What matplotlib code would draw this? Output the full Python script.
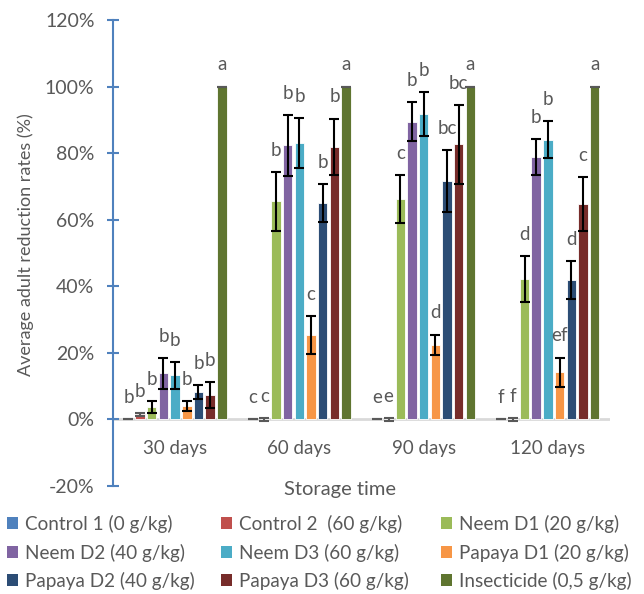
import numpy as np
import matplotlib
matplotlib.use('Agg')
import matplotlib.pyplot as plt
from matplotlib.patches import Patch

plt.rcParams['font.family'] = ['Lato', 'DejaVu Sans']

categories = ['30 days', '60 days', '90 days', '120 days']
series_names = ['Control 1 (0 g/kg)', 'Control 2  (60 g/kg)', 'Neem D1 (20 g/kg)',
                'Neem D2 (40 g/kg)', 'Neem D3 (60 g/kg)', 'Papaya D1 (20 g/kg)',
                'Papaya D2 (40 g/kg)', 'Papaya D3 (60 g/kg)', 'Insecticide (0,5 g/kg)']
colors = ['#4F81BD', '#C0504D', '#9BBB59', '#8064A2', '#4BACC6', '#F79646',
          '#2C4D75', '#772C2A', '#5F7530']

control1 = [0, 0, 0, 0]
control2 = [1.5, 0, 0, 0]
neem_d1 = [3.6, 65.5, 66.2, 42.2]
neem_d2 = [13.8, 82.3, 89.5, 78.8]
neem_d3 = [13.2, 83.0, 91.7, 84.0]
papaya_d1 = [3.9, 25.4, 22.5, 14.1]
papaya_d2 = [8.2, 65.0, 71.6, 41.9]
papaya_d3 = [7.2, 81.9, 82.6, 64.6]
insecticide = [100, 100, 100, 100]

control1_err = [0, 0, 0, 0]
control2_err = [0.5, 0.5, 0.5, 0.5]
neem_d1_err = [1.8, 8.9, 7.1, 7.0]
neem_d2_err = [4.6, 9.1, 5.9, 5.3]
neem_d3_err = [4.0, 7.6, 6.6, 5.6]
papaya_d1_err = [1.5, 5.6, 3.0, 4.5]
papaya_d2_err = [2.2, 5.8, 9.2, 5.8]
papaya_d3_err = [3.9, 8.5, 11.8, 8.1]
insecticide_err = [0, 0, 0, 0]

letters_30 = ['b', 'b', 'b', 'b', 'b', 'b', 'b', 'b', 'a']
letters_60 = ['c', 'c', 'b', 'b', 'b', 'c', 'b', 'b', 'a']
letters_90 = ['e', 'e', 'c', 'b', 'b', 'd', 'bc', 'bc', 'a']
letters_120 = ['f', 'f', 'd', 'b', 'b', 'ef', 'd', 'c', 'a']

yticks = [-20, 0, 20, 40, 60, 80, 100, 120]

values = [control1, control2, neem_d1, neem_d2, neem_d3, papaya_d1, papaya_d2, papaya_d3, insecticide]
errors = [control1_err, control2_err, neem_d1_err, neem_d2_err, neem_d3_err,
          papaya_d1_err, papaya_d2_err, papaya_d3_err, insecticide_err]
letters = [letters_30, letters_60, letters_90, letters_120]

txt = '#595959'
W, H = 644, 594
fig = plt.figure(figsize=(W / 100, H / 100), dpi=100)
ax = fig.add_axes([113 / W, 1 - 486 / H, (610 - 113) / W, (486 - 20) / H])
ax.set_xlim(0, len(categories))
ax.set_ylim(-20, 120)

ax.axhline(0, color='#D9D9D9', lw=2, zorder=1)

n = len(values)
slot = 0.094
bw = 0.076
centers = np.arange(len(categories)) + 0.5
for i, (vals, errs, col) in enumerate(zip(values, errors, colors)):
    x = centers + (i - (n - 1) / 2) * slot
    ax.bar(x, vals, width=bw, color=col, edgecolor='white', linewidth=0.6, zorder=2)
    ecol = '#595959' if max(errs) <= 0.5 else 'black'
    ax.errorbar(x, vals, yerr=errs, fmt='none', ecolor=ecol, elinewidth=1.5,
                capsize=3.8, capthick=1.5, zorder=3)
    for j in range(len(categories)):
        ax.text(x[j], vals[j] + errs[j] + 6.5, letters[j][i], ha='center', va='center',
                fontsize=13.5, color=txt, zorder=4)

for j, c in enumerate(categories):
    ax.text(centers[j], -8.6, c, ha='center', va='center', fontsize=13.5, color=txt)

for s in ['top', 'right', 'bottom']:
    ax.spines[s].set_visible(False)
ax.spines['left'].set_color('#4F81BD')
ax.spines['left'].set_linewidth(1.5)
ax.set_xticks([])
ax.set_yticks(yticks)
ax.set_yticklabels([f'{t}%' for t in yticks])
ax.tick_params(axis='y', direction='inout', length=8.6, width=1.5, color='#4F81BD',
               labelcolor=txt, labelsize=14, pad=9)

fig.text(340 / W, 1 - 490 / H, 'Storage time', ha='center', va='center', fontsize=14.5, color=txt)
fig.text(26 / W, 1 - 245 / H, 'Average adult reduction rates (%)', ha='center', va='center',
         rotation=90, fontsize=13, color=txt)

handles = [Patch(facecolor=c, edgecolor='none') for c in colors]
col_x = [7, 221, 441]
for c in range(3):
    idx = [c, c + 3, c + 6]
    leg = fig.legend([handles[k] for k in idx], [series_names[k] for k in idx],
                     loc='upper left', bbox_to_anchor=(col_x[c] / W, 1 - 515 / H), frameon=False,
                     handlelength=0.6, handleheight=0.6, handletextpad=0.35,
                     fontsize=13.6, labelspacing=0.55, labelcolor=txt, borderpad=0,
                     borderaxespad=0)

fig.savefig('out.png', dpi=100)
